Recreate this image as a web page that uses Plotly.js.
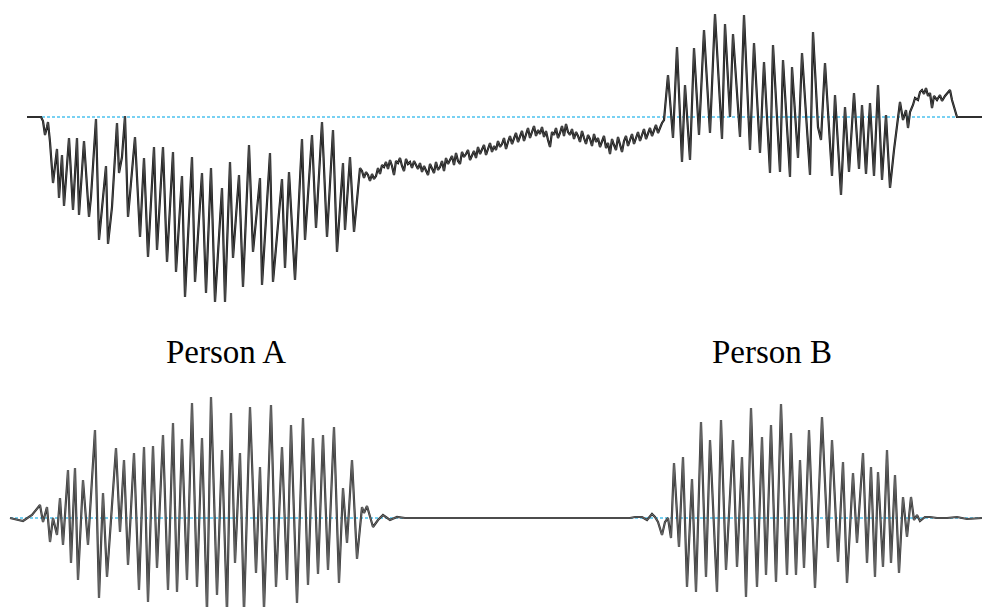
<!DOCTYPE html>
<html>
<head>
<meta charset="utf-8">
<script src="https://cdn.plot.ly/plotly-3.0.1.min.js"></script>
<style>
  html, body { margin: 0; padding: 0; background: #ffffff; }
  #chart { width: 982px; height: 607px; }
</style>
</head>
<body>
<div id="chart"></div>
<script>
// Upper trace: combined recording (Person A segment, quiet drift, Person B segment)
const upperATime = [27, 41, 43, 45, 47, 48, 50, 53, 57, 59, 62, 64, 69, 73, 77, 79, 84, 87, 89, 91, 96, 99, 106, 108, 112, 117, 119, 122, 125, 128, 135, 140, 144, 148, 154, 157, 163, 167, 173, 176, 182, 185, 192, 195, 202, 206, 211, 215, 222, 225, 230, 233, 239, 243, 249, 253, 260, 262, 270, 273, 282, 285, 289, 295, 302, 305, 312, 316, 322, 327, 333, 337, 343, 345, 350, 354, 358, 360];
const upperAValue = [0, 0, -4, -18, -10, -5, -25, -66, -32, -81, -38, -89, -21, -93, -21, -98, -24, -75, -100, -80, -2, -123, -49, -127, -90, -6, -56, -40, 1, -100, -20, -120, -41, -140, -30, -133, -30, -145, -35, -155, -59, -180, -40, -165, -56, -176, -51, -185, -71, -185, -45, -141, -58, -170, -28, -135, -61, -168, -36, -165, -62, -151, -55, -163, -22, -123, -18, -111, -5, -120, -13, -135, -46, -113, -40, -115, -70, -51];

const upperMidTime = [362, 364, 366, 368, 370, 372, 374, 376, 378, 380, 382, 384, 386, 388, 390, 392, 394, 396, 398, 400, 402, 404, 406, 408, 410, 412, 414, 416, 418, 420, 422, 424, 426, 428, 430, 432, 434, 436, 438, 440, 442, 444, 446, 448, 450, 452, 454, 456, 458, 460, 462, 464, 466, 468, 470, 472, 474, 476, 478, 480, 482, 484, 486, 488, 490, 492, 494, 496, 498, 500, 502, 504, 506, 508, 510, 512, 514, 516, 518, 520, 522, 524, 526, 528, 530, 532, 534, 536, 538, 540, 542, 544, 546, 548, 550, 552, 554, 556, 558, 560, 562, 564, 566, 568, 570, 572, 574, 576, 578, 580, 582, 584, 586, 588, 590, 592, 594, 596, 598, 600, 602, 604, 606, 608, 610, 612, 614, 616, 618, 620, 622, 624, 626, 628, 630, 632, 634, 636, 638, 640, 642, 644, 646, 648, 650, 652, 654, 656, 658, 660];
const upperMidValue = [-54, -61, -55, -58, -64, -57, -62, -59, -51, -57, -48, -50, -45, -52, -43, -49, -58, -44, -46, -41, -49, -54, -42, -47, -45, -51, -44, -48, -52, -46, -55, -49, -53, -58, -47, -51, -56, -45, -53, -50, -44, -54, -41, -47, -43, -39, -48, -36, -44, -47, -35, -40, -37, -33, -43, -38, -34, -41, -30, -37, -33, -28, -38, -31, -26, -35, -29, -33, -24, -30, -27, -21, -32, -25, -19, -27, -22, -16, -25, -19, -14, -24, -18, -11, -21, -16, -9, -19, -13, -17, -10, -20, -14, -23, -30, -15, -18, -11, -21, -16, -9, -19, -7, -15, -18, -12, -22, -15, -19, -25, -14, -21, -27, -18, -22, -29, -17, -25, -21, -30, -24, -19, -31, -26, -37, -22, -28, -33, -20, -27, -35, -24, -19, -29, -22, -17, -27, -21, -15, -24, -18, -12, -22, -16, -11, -19, -14, -8, -16, -10];

const upperBTime = [662, 664, 668, 673, 677, 682, 685, 690, 694, 699, 704, 710, 715, 722, 725, 730, 733, 740, 744, 750, 754, 760, 764, 770, 773, 780, 783, 790, 792, 798, 802, 810, 813, 818, 821, 825, 832, 835, 841, 845, 849, 854, 859, 862, 866, 870, 874, 878, 882, 886, 890, 894, 897, 900, 903, 906, 908, 910, 913, 915, 918, 920, 922, 924, 926, 928, 930, 932, 934, 937, 940, 942, 945, 948, 950, 952, 954, 957, 982];
const upperBValue = [-6, -3, 42, -21, 70, -45, 32, -43, 69, -18, 87, -16, 103, -22, 93, 0, 83, -20, 102, -33, 74, -36, 55, -56, 72, -55, 57, -60, 50, -41, 64, -58, 85, -10, -23, 54, -59, 22, -78, 10, -55, 24, -52, 12, -57, 14, -59, 32, -63, 2, -71, -33, -7, 15, -3, 7, -11, 5, 12, 19, 17, 25, 27, 23, 29, 21, 24, 9, 21, 17, 22, 16, 21, 24, 27, 17, 11, 0, 0];

// Lower traces: separated voices of Person A and Person B
const lowerATime = [10, 23, 32, 40, 43, 47, 50, 53, 57, 60, 63, 68, 71, 75, 78, 83, 88, 95, 99, 103, 107, 116, 120, 124, 128, 134, 139, 144, 148, 153, 157, 163, 168, 173, 177, 182, 187, 192, 197, 202, 207, 211, 217, 222, 227, 231, 235, 240, 244, 250, 256, 260, 264, 271, 276, 282, 287, 291, 297, 303, 308, 313, 318, 323, 328, 334, 339, 343, 347, 352, 357, 362, 364, 367, 369, 373, 378, 383, 390, 397, 405, 630];
const lowerAValue = [0, -3, 3, 13, -4, 11, -24, 0, -17, 20, -27, 48, -45, 50, -62, 38, -27, 88, -80, 25, -59, 70, -14, 58, -47, 65, -72, 71, -84, 72, -50, 83, -72, 95, -74, 79, -62, 115, -69, 80, -95, 121, -77, 68, -95, 105, -45, 65, -95, 111, -55, 51, -92, 113, -69, 71, -62, 93, -85, 100, -67, 80, -56, 83, -52, 91, -65, 30, -25, 58, -41, 11, 5, 12, 5, -9, -2, 3, -2, 1, 0, 0];

const lowerBTime = [630, 635, 642, 647, 652, 655, 658, 662, 665, 668, 671, 674, 679, 683, 687, 692, 696, 701, 706, 710, 717, 721, 726, 733, 737, 742, 746, 751, 757, 762, 766, 771, 776, 781, 787, 791, 796, 800, 804, 809, 815, 822, 828, 832, 838, 843, 847, 853, 857, 863, 867, 871, 875, 878, 883, 887, 891, 895, 899, 903, 907, 911, 914, 917, 920, 925, 930, 937, 947, 957, 967, 982];
const lowerBValue = [0, 1, 1, -2, 4, 1, -4, -17, -4, 0, -20, 55, -29, 61, -69, 39, -74, 96, -59, 78, -74, 98, -52, 78, -49, 61, -79, 110, -69, 81, -57, 93, -64, 114, -57, 85, -57, 58, -50, 88, -70, 101, -30, 78, -44, 56, -65, 45, -25, 65, -45, 51, -59, 46, -49, 68, -45, 43, -55, 21, -19, 21, -2, 3, -3, 1, 1, 0, 0, 1, -1, 0];

const speakerLabels = ['Person A', 'Person B'];
const labelTime = [226, 772];

const upperTime = upperATime.concat(upperMidTime, upperBTime);
const upperValue = upperAValue.concat(upperMidValue, upperBValue);

const refColor = '#4cc2ee';

// each waveform is drawn as a dark stroke with a lighter core
function waveform(x, y, yaxis, edge, core) {
  return [
    { x: x, y: y, xaxis: 'x', yaxis: yaxis, mode: 'lines', line: { color: edge, width: 2.2 } },
    { x: x, y: y, xaxis: 'x', yaxis: yaxis, mode: 'lines', line: { color: core, width: 0.6 } }
  ];
}

const traces = [
  // zero reference lines
  { x: [27, 982], y: [0, 0], xaxis: 'x', yaxis: 'y', mode: 'lines',
    line: { color: refColor, width: 1.5, dash: '3px,2px' } },
  { x: [10, 982], y: [0, 0], xaxis: 'x', yaxis: 'y2', mode: 'lines',
    line: { color: refColor, width: 1.5, dash: '3px,2px' } }
].concat(
  waveform(upperTime, upperValue, 'y', '#141414', '#6e6e6e'),
  waveform(lowerATime, lowerAValue, 'y2', '#333333', '#8a8a8a'),
  waveform(lowerBTime, lowerBValue, 'y2', '#333333', '#8a8a8a')
);

const hidden = { visible: false, showgrid: false, zeroline: false, fixedrange: true };

const layout = {
  width: 982, height: 607,
  margin: { l: 0, r: 0, t: 0, b: 0, pad: 0 },
  paper_bgcolor: '#ffffff', plot_bgcolor: '#ffffff',
  showlegend: false,
  xaxis: Object.assign({ range: [0, 982] }, hidden),
  yaxis: Object.assign({ domain: [1 - 320 / 607, 1], range: [-203, 117] }, hidden),
  yaxis2: Object.assign({ domain: [0, 217 / 607], range: [-89, 128] }, hidden),
  annotations: speakerLabels.map((t, i) => ({
    text: t, x: labelTime[i], xref: 'x', y: 1 - 352 / 607, yref: 'paper',
    xanchor: 'center', yanchor: 'middle', showarrow: false,
    font: { family: 'Liberation Serif, Times New Roman, serif', size: 33, color: '#000000' }
  }))
};

Plotly.newPlot('chart', traces, layout, { displayModeBar: false, staticPlot: true });
</script>
</body>
</html>
